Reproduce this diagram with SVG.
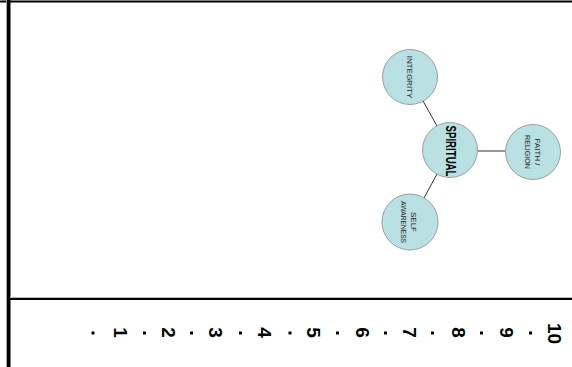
<svg xmlns="http://www.w3.org/2000/svg" width="572" height="367" viewBox="0 0 572 367">
<style>
.node{fill:#b9e0e2;stroke:#8a8a8a;stroke-width:0.8}
.lbl{font-family:"Liberation Sans",Arial,sans-serif;font-size:8px;fill:#222;text-anchor:middle}
.main{font-family:"Liberation Sans",Arial,sans-serif;font-size:14px;font-weight:bold;fill:#000;text-anchor:middle}
.num{font-family:"Liberation Sans",Arial,sans-serif;font-size:19px;font-weight:bold;fill:#000;text-anchor:middle}
.conn{stroke:#333;stroke-width:1;fill:none}
</style>
<rect width="572" height="367" fill="#fff"/>
<g id="frame">
<line x1="0" y1="1.5" x2="572" y2="1.5" stroke="#000" stroke-width="2"/>
<rect x="6" y="0" width="1" height="367" fill="#aaa"/>
<rect x="7" y="0" width="3.5" height="367" fill="#000"/>
<line x1="10" y1="297.5" x2="572" y2="297.5" stroke="#bbb" stroke-width="1"/>
<line x1="10" y1="299" x2="572" y2="299" stroke="#000" stroke-width="2"/>
</g>
<g id="connectors">
<line class="conn" x1="423" y1="101" x2="437" y2="126"/>
<line class="conn" x1="478" y1="151" x2="505" y2="151"/>
<line class="conn" x1="437" y1="174" x2="424" y2="198"/>
</g>
<g id="integrity">
<circle class="node" cx="410" cy="77" r="27.5"/>
<text class="lbl" transform="translate(410,77) rotate(90)" dy="2.9">INTEGRITY</text>
</g>
<g id="spiritual">
<circle class="node" cx="450" cy="150" r="27.5"/>
<text class="main" transform="translate(451,151) rotate(90)" dy="5" textLength="51" lengthAdjust="spacingAndGlyphs">SPIRITUAL</text>
</g>
<g id="faith">
<circle class="node" cx="533" cy="152" r="27.5"/>
<text class="lbl" transform="translate(537.5,152) rotate(90)" dy="2.9">FAITH /</text>
<text class="lbl" transform="translate(528,152) rotate(90)" dy="2.9" textLength="34" lengthAdjust="spacingAndGlyphs">RELIGION</text>
</g>
<g id="self">
<circle class="node" cx="410" cy="222" r="28"/>
<text class="lbl" transform="translate(413.5,222) rotate(90)" dy="2.9">SELF</text>
<text class="lbl" transform="translate(404,222) rotate(90)" dy="2.9" textLength="42" lengthAdjust="spacingAndGlyphs">AWARENESS</text>
</g>
<g id="ruler">
<g fill="#000">
<rect x="91.5" y="331.5" width="3" height="3"/>
<rect x="143" y="331.5" width="3" height="3"/>
<rect x="190" y="331.5" width="3" height="3"/>
<rect x="239" y="331.5" width="3" height="3"/>
<rect x="288.5" y="331.5" width="3" height="3"/>
<rect x="336" y="331.5" width="3" height="3"/>
<rect x="384" y="331.5" width="3" height="3"/>
<rect x="431" y="331.5" width="3" height="3"/>
<rect x="480" y="331.5" width="3" height="3"/>
<rect x="529" y="331.5" width="3" height="3"/>
</g>
<text class="num" transform="translate(121,332.5) rotate(90)" dy="6.8">1</text>
<text class="num" transform="translate(168.5,332.5) rotate(90)" dy="6.8">2</text>
<text class="num" transform="translate(216,332.5) rotate(90)" dy="6.8">3</text>
<text class="num" transform="translate(265,332.5) rotate(90)" dy="6.8">4</text>
<text class="num" transform="translate(314,332.5) rotate(90)" dy="6.8">5</text>
<text class="num" transform="translate(362.5,332.5) rotate(90)" dy="6.8">6</text>
<text class="num" transform="translate(410,332.5) rotate(90)" dy="6.8">7</text>
<text class="num" transform="translate(459,332.5) rotate(90)" dy="6.8">8</text>
<text class="num" transform="translate(506.5,332.5) rotate(90)" dy="6.8">9</text>
<text class="num" transform="translate(555,333.5) rotate(90)" dy="6.8">10</text>
</g>
</svg>
